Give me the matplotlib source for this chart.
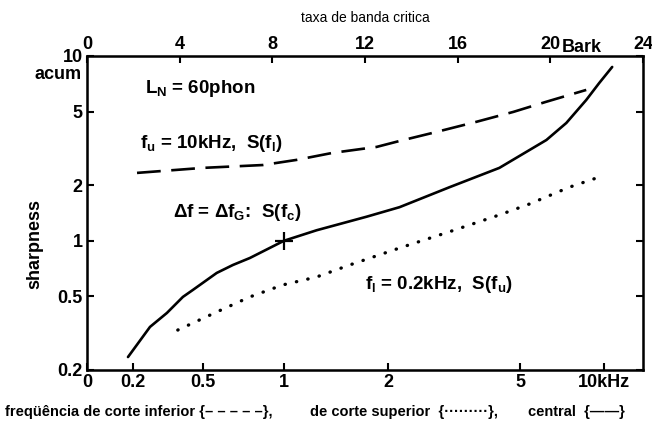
import numpy as np
import matplotlib.pyplot as plt
from matplotlib import transforms

plt.rcParams['font.family'] = ['Liberation Sans', 'DejaVu Sans']
plt.rcParams['mathtext.default'] = 'regular'

# critical-band rate in Bark and sharpness in acum

# central frequency, bandwidth = one critical band
central_z = [1.77, 2.72, 3.45, 4.14, 4.57, 5.60, 6.30, 7.03, 8.50, 9.91, 12.07, 13.49, 15.65, 17.80, 19.83, 20.69, 21.55, 22.11, 22.67]
central_s = [0.235, 0.342, 0.407, 0.497, 0.542, 0.670, 0.740, 0.807, 1.00, 1.14, 1.35, 1.52, 1.95, 2.48, 3.51, 4.34, 5.78, 7.14, 8.72]

# upper cut-off fixed at 10 kHz, lower cut-off varied
lower_cut_z = [2.16, 5.0, 7.59, 9.05, 10.6, 12.5, 13.5, 14.9, 16.8, 18.4, 19.8, 21.55]
lower_cut_s = [2.33, 2.48, 2.57, 2.74, 2.99, 3.22, 3.47, 3.83, 4.40, 4.98, 5.64, 6.55]

# lower cut-off fixed at 0.2 kHz, upper cut-off varied
upper_cut_z = [3.92, 5.60, 7.03, 8.45, 9.91, 11.34, 13.49, 15.65, 17.80, 19.09, 20.82, 22.24]
upper_cut_s = [0.329, 0.412, 0.497, 0.577, 0.637, 0.740, 0.914, 1.12, 1.38, 1.58, 1.95, 2.24]

# reference point: 1 kHz critical band noise = 1 acum
ref_z, ref_s = 8.50, 1.0

bark_ticks = [0, 4, 8, 12, 16, 20, 24]
freq_labels = ['0', '0.2', '0.5', '1', '2', '5', '10kHz']
freq_pos = [0, 2.0, 5.0, 8.5, 13.0, 18.7, 22.3]
sharp_ticks = [0.2, 0.5, 1, 2, 5, 10]
sharp_labels = ['0.2', '0.5', '1', '2', '5', '10']

fig = plt.figure(figsize=(6.52, 4.24), dpi=100)
ax = fig.add_axes([0.1334, 0.1274, 0.8528, 0.7406])

ax.plot(central_z, central_s, color='black', lw=1.9, solid_capstyle='round',
        solid_joinstyle='round')
ax.plot(lower_cut_z, lower_cut_s, color='black', lw=1.9, linestyle=(0, (9, 4)))
ax.plot(upper_cut_z, upper_cut_s, color='black', lw=2.4, linestyle=(0, (0.1, 3.4)),
        dash_capstyle='round')
ax.plot([ref_z], [ref_s], marker='+', color='black', markersize=13, mew=1.6)

ax.set_xlim(0, 24)
ax.set_yscale('log')
ax.set_ylim(0.2, 10)
ax.set_xticks(freq_pos)
ax.set_xticklabels(freq_labels)
ax.set_yticks(sharp_ticks)
ax.set_yticklabels(sharp_labels)
ax.minorticks_off()
ax.tick_params(direction='in', length=5, width=1.5, labelsize=13, pad=3,
               right=True)
for lab in ax.get_xticklabels() + ax.get_yticklabels():
    lab.set_fontweight('bold')
for sp in ax.spines.values():
    sp.set_linewidth(1.8)

top = ax.twiny()
top.set_xlim(0, 24)
top.set_xticks(bark_ticks)
top.set_xticklabels([str(b) for b in bark_ticks])
top.tick_params(direction='in', length=5, width=1.5, labelsize=13, pad=2)
for lab in top.get_xticklabels():
    lab.set_fontweight('bold')
tr = transforms.blended_transform_factory(ax.transData, ax.transAxes)
ax.text(20.5, 1.0, 'Bark', transform=tr, ha='left', va='bottom',
        fontsize=13, fontweight='bold')
ax.text(0.5, 1.1, 'taxa de banda critica', transform=ax.transAxes,
        ha='center', va='bottom', fontsize=10)

ax.set_ylabel('sharpness', fontsize=13, fontweight='bold')
ax.yaxis.set_label_coords(-0.078, 0.40)
ax.text(-0.01, 0.94, 'acum', transform=ax.transAxes, ha='right', va='center',
        fontsize=13, fontweight='bold')

ax.text(2.5, 6.7, r'L$_N$ = 60phon', fontsize=13.5, fontweight='bold', va='center')
ax.text(2.3, 3.35, r'f$_u$ = 10kHz,  S(f$_l$)', fontsize=13.5, fontweight='bold', va='center')
ax.text(3.7, 1.42, r'$\Delta$f = $\Delta$f$_G$:  S(f$_c$)', fontsize=13.5, fontweight='bold', va='center')
ax.text(12.0, 0.58, r'f$_l$ = 0.2kHz,  S(f$_u$)', fontsize=13.5, fontweight='bold', va='center')

fig.text(0.008, 0.028, 'freqüência de corte inferior {– – – – –},', fontsize=10.5,
         fontweight='bold', va='center')
fig.text(0.475, 0.028, 'de corte superior  {·········},', fontsize=10.5,
         fontweight='bold', va='center')
fig.text(0.81, 0.028, 'central  {——}', fontsize=10.5,
         fontweight='bold', va='center')

fig.savefig('out.png', dpi=100)
